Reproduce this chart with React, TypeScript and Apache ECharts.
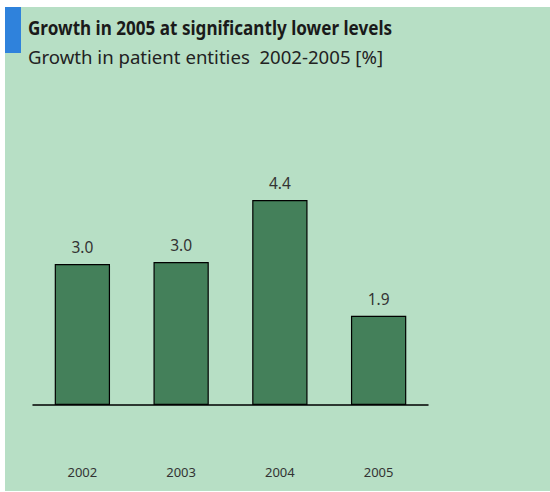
import React, { useEffect, useRef } from "react";
import * as echarts from "echarts";

const categories = ["2002", "2003", "2004", "2005"];
const growthValues = [3.0, 3.04, 4.36, 1.9];
const titleText = "Growth in 2005 at significantly lower levels";
const subtitleText = "Growth in patient entities  2002-2005 [%]";

export default function App() {
  const ref = useRef<HTMLDivElement>(null);
  useEffect(() => {
    if (!ref.current) return;
    const chart = echarts.init(ref.current, null, { renderer: "svg" });
    chart.setOption({
      animation: false,
      backgroundColor: "#ffffff",
      graphic: [
        { type: "rect", shape: { x: 5, y: 7, width: 545, height: 484 }, style: { fill: "#b7dfc5" }, z: -10 },
        { type: "rect", shape: { x: 5, y: 7, width: 16, height: 46 }, style: { fill: "#2f82dc" } },
        {
          type: "text", x: 28, y: 37, scaleX: 0.855,
          style: { text: titleText, fill: "#1a1a1a", font: "bold 20px 'Noto Sans'", textVerticalAlign: "bottom" },
        },
        {
          type: "text", x: 28, y: 66,
          style: { text: subtitleText, fill: "#222222", font: "18.6px 'Noto Sans'", textVerticalAlign: "bottom" },
        },
      ],
      grid: { left: 33, right: 122, top: 170, bottom: 87, containLabel: false },
      xAxis: {
        type: "category",
        data: categories,
        axisLine: { lineStyle: { color: "#000", width: 1.5 } },
        axisTick: { show: false },
        axisLabel: { margin: 60, color: "#333", fontSize: 13, fontFamily: "Noto Sans" },
      },
      yAxis: { type: "value", min: 0, max: 5, show: false, splitLine: { show: false } },
      series: [
        {
          type: "bar",
          data: growthValues,
          barWidth: "56%",
          itemStyle: { color: "#44805a", borderColor: "#000", borderWidth: 1.2 },
          label: {
            show: true, position: "top", distance: 9, color: "#333", fontSize: 15.5, fontFamily: "Noto Sans",
            formatter: (p: any) => Number(p.value).toFixed(1),
          },
        },
      ],
    });
    return () => chart.dispose();
  }, []);
  return <div ref={ref} style={{ position: "fixed", left: 0, top: 0, width: 550, height: 492 }} />;
}
